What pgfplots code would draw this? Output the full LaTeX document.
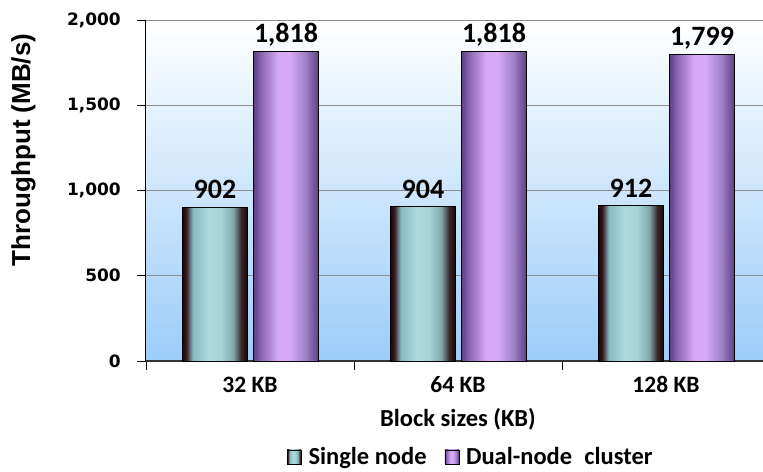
\documentclass[border=0pt]{standalone}
\usepackage{fontspec}
\setmainfont{Carlito}
\newfontfamily\arialfont{Liberation Sans}
\newfontfamily\verdfont{DejaVu Sans}
\usepackage{pgfplots}
\pgfplotsset{compat=1.18}

\definecolor{bgblue}{HTML}{9CCDF9}
\definecolor{gridgray}{HTML}{8C8C8C}
% single node bar colours
\definecolor{sA}{HTML}{140608}
\definecolor{sB}{HTML}{3A1A22}
\definecolor{sC}{HTML}{88BCC0}
\definecolor{sD}{HTML}{ACDADD}
\definecolor{sE}{HTML}{A4D4D6}
\definecolor{sF}{HTML}{7FA8AA}
\definecolor{sG}{HTML}{3C2A2C}
% dual node bar colours
\definecolor{pA}{HTML}{5E3F80}
\definecolor{pB}{HTML}{8A68B2}
\definecolor{pC}{HTML}{D6A8F6}
\definecolor{pD}{HTML}{D8AAF8}
\definecolor{pE}{HTML}{A080C8}

\pgfdeclarehorizontalshading{singlebar}{100bp}{color(0bp)=(sA); color(25bp)=(sA); color(28bp)=(sB); color(33bp)=(sC); color(45bp)=(sD); color(55bp)=(sE); color(64bp)=(sF); color(70bp)=(sG); color(75bp)=(sA); color(100bp)=(sA)}
\pgfdeclarehorizontalshading{dualbar}{100bp}{color(0bp)=(pA); color(25bp)=(pA); color(31bp)=(pB); color(44bp)=(pC); color(52.5bp)=(pD); color(65bp)=(pE); color(75bp)=(pA); color(100bp)=(pA)}

\pgfplotsset{
  singlestyle/.style={ybar, bar width=65bp, bar shift=-35bp, shade, shading=singlebar, draw=black, line width=0.8bp,
    every node near coord/.append style={xshift=-35bp}},
  dualstyle/.style={ybar, bar width=65bp, bar shift=36bp, shade, shading=dualbar, draw=black, line width=0.8bp,
    every node near coord/.append style={xshift=36bp}},
}

\begin{document}
\begin{tikzpicture}
\path[use as bounding box] (-146bp,-111bp) rectangle (617bp,361bp);
\begin{axis}[
  scale only axis,
  width=617bp, height=341bp,
  xmin=-0.5, xmax=2.4663,
  ymin=0, ymax=2000,
  ytick={0,500,1000,1500,2000},
  xtick={-0.5,0.5,1.5},
  xticklabels={,,},
  extra x ticks={0,1,2},
  extra x tick labels={32 KB,64 KB,128 KB},
  extra x tick style={major tick length=0pt},
  axis x line*=bottom,
  axis y line*=left,
  x axis line style={draw=black!80, line width=1.2bp},
  y axis line style={draw=black, line width=1bp},
  tick align=outside,
  major tick length=9bp,
  tick style={draw=black, line width=0.9bp},
  ymajorgrids,
  grid style={draw=gridgray, line width=0.9bp},
  axis background/.style={shade, top color=white, bottom color=bgblue},
  clip=false,
  /pgf/number format/1000 sep={,},
  /pgf/number format/assume math mode=true,
  yticklabel style={font=\fontsize{17bp}{20bp}\verdfont\bfseries, anchor=east, inner sep=0pt, xshift=-16bp},
  xticklabel style={font=\fontsize{23.5bp}{26bp}\selectfont\bfseries, anchor=base, inner sep=0pt, yshift=-31bp},
  every axis x label/.style={at={(axis description cs:0.5057,0)}, anchor=base, yshift=-65bp, inner sep=0pt, font=\fontsize{24.5bp}{27bp}\selectfont\bfseries},
  every axis y label/.style={at={(axis description cs:-0.1985,0.619)}, rotate=90, anchor=center, inner sep=0pt, font=\fontsize{26bp}{29bp}\arialfont\bfseries},
  xlabel={Block sizes (KB)},
  ylabel={Throughput (MB/s)},
  nodes near coords,
  point meta=y,
  every node near coord/.append style={font=\fontsize{28bp}{30bp}\selectfont\bfseries, anchor=base, inner sep=0pt, yshift=8.5bp, text=black},
  legend columns=2,
  legend style={at={(axis description cs:0.5255,-0.281)}, anchor=center, draw=none, fill=none,
    font=\fontsize{24.5bp}{27bp}\selectfont\bfseries,
    /tikz/every odd column/.append style={column sep=6bp},
    /tikz/every even column/.append style={column sep=17bp},
    nodes={inner sep=1bp}},
  legend image code/.code={\draw[#1, draw=black, line width=0.6bp] (0bp,-7bp) rectangle (14bp,7bp);},
]
\addplot[singlestyle] coordinates {(0,902)};
\addlegendentry{Single node}
\addplot[dualstyle] coordinates {(0,1818)};
\addlegendentry{Dual-node\hspace{0.5em}cluster}
\addplot[singlestyle, forget plot] coordinates {(1,904)};
\addplot[dualstyle, forget plot] coordinates {(1,1818)};
\addplot[singlestyle, forget plot] coordinates {(2,912)};
\addplot[dualstyle, forget plot] coordinates {(2,1799)};
\end{axis}
\end{tikzpicture}
\end{document}
